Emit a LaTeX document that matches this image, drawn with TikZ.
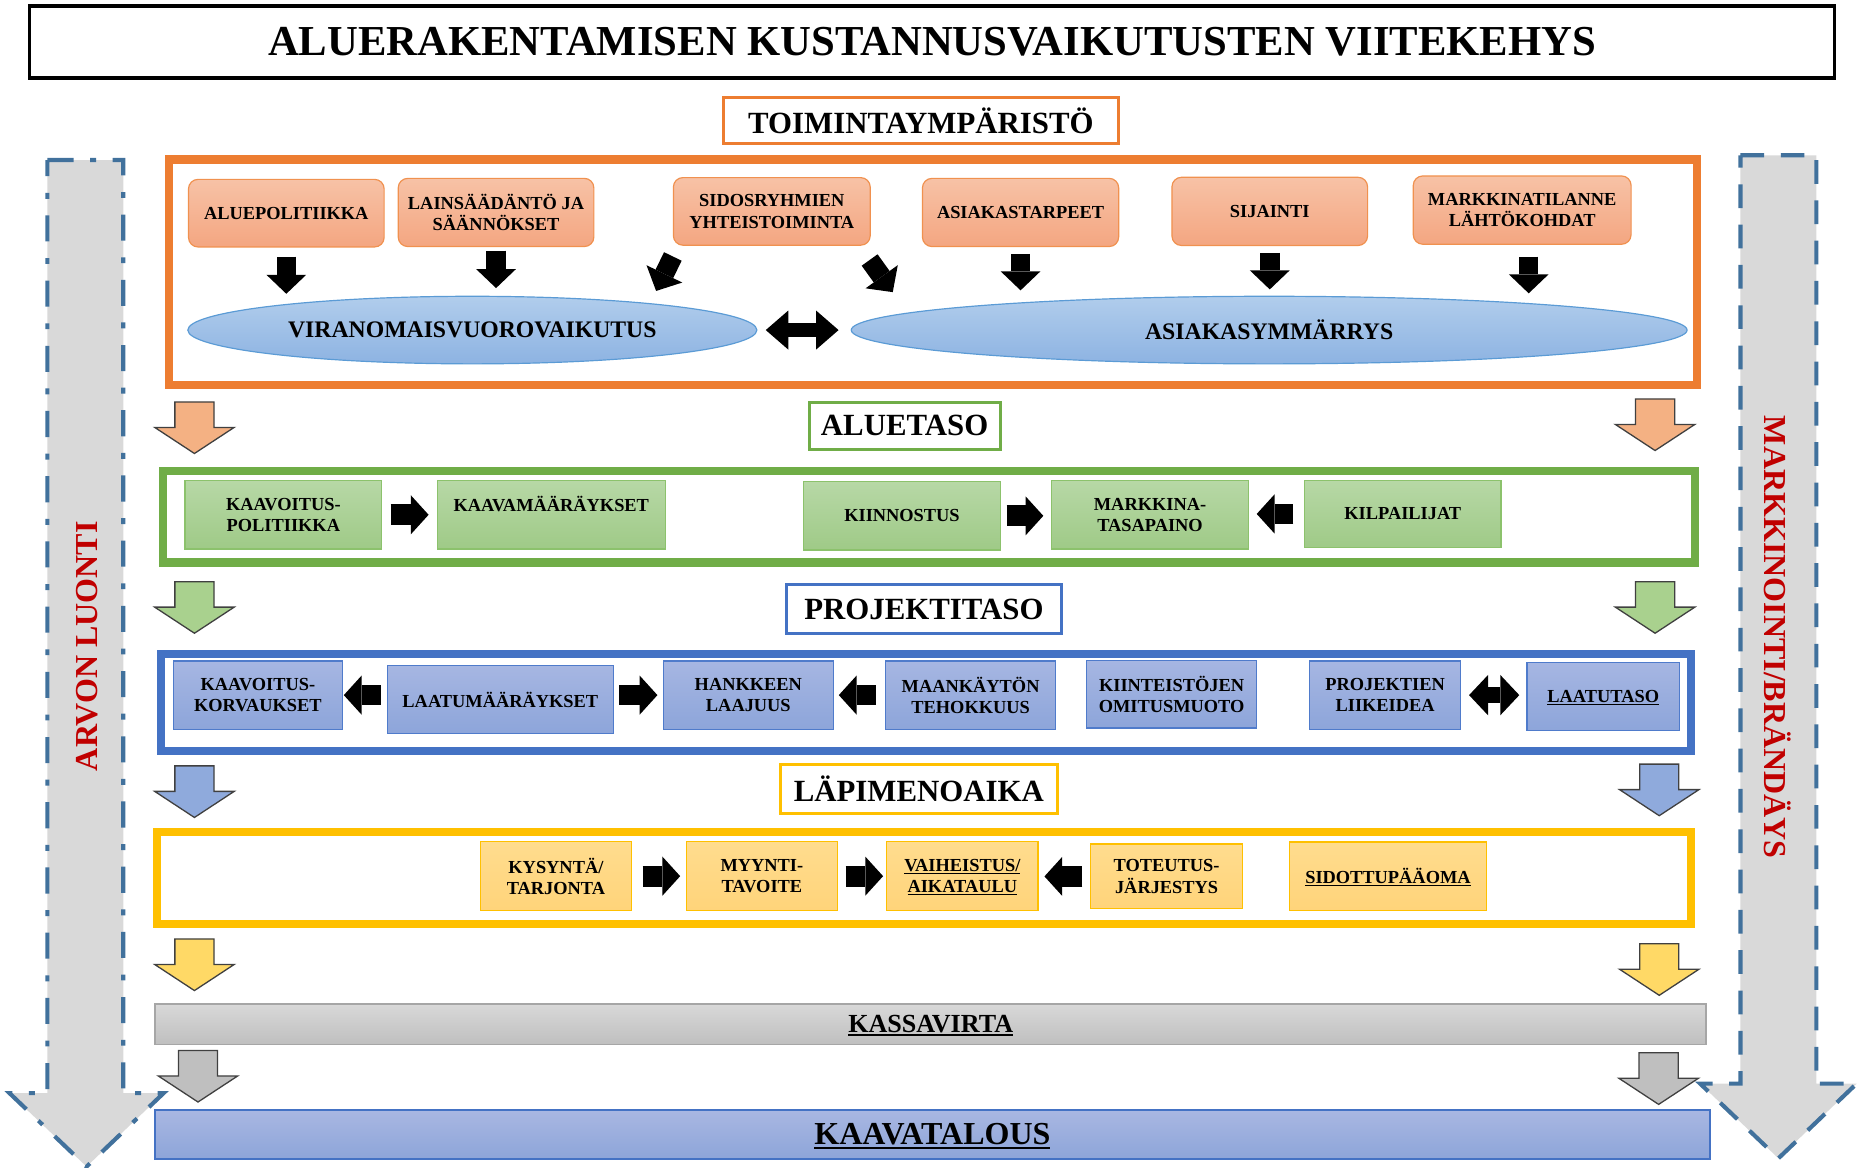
\documentclass[tikz,border=0pt]{standalone}
\usepackage{fontspec}
\setmainfont{Liberation Serif}
\usetikzlibrary{arrows.meta,shapes.geometric,calc}

\definecolor{orangeC}{HTML}{ED7D31}
\definecolor{greenC}{HTML}{70AD47}
\definecolor{blueC}{HTML}{4472C4}
\definecolor{goldC}{HTML}{FFC000}
\definecolor{redC}{HTML}{C00000}
\definecolor{dashC}{HTML}{41719C}
\definecolor{sideF}{HTML}{D9D9D9}
\definecolor{oT}{HTML}{F7C2A6}\definecolor{oB}{HTML}{F4A681}\definecolor{oD}{HTML}{F0914F}
\definecolor{eT}{HTML}{B1CDEC}\definecolor{eB}{HTML}{8DB3E2}\definecolor{eD}{HTML}{5B9BD5}
\definecolor{gT}{HTML}{B7D8A6}\definecolor{gB}{HTML}{9FCA87}\definecolor{gD}{HTML}{8CC26C}
\definecolor{bT}{HTML}{A6B6E2}\definecolor{bB}{HTML}{8DA5DA}\definecolor{bD}{HTML}{4F7BCB}
\definecolor{yT}{HTML}{FFDC8E}\definecolor{yB}{HTML}{FFD47A}\definecolor{yD}{HTML}{FFC000}
\definecolor{arrO}{HTML}{F4B183}
\definecolor{arrG}{HTML}{A9D18E}
\definecolor{arrB}{HTML}{8FAADC}
\definecolor{arrY}{HTML}{FFD966}
\definecolor{arrK}{HTML}{BFBFBF}
\definecolor{kasT}{HTML}{D8D8D8}\definecolor{kasB}{HTML}{BFBFBF}\definecolor{kasD}{HTML}{A6A6A6}
\definecolor{kvT}{HTML}{A9B7E2}\definecolor{kvB}{HTML}{8DA5D9}

% underline drawn as a rule that adds no depth
\newsavebox\ulbox
\newcommand\ulx[1]{\sbox\ulbox{#1}\rlap{\smash{\rule[-0.13em]{\wd\ulbox}{0.07em}}}\usebox\ulbox}

% coloured block arrow pointing down: centre x, top y, fill colour
\newcommand\dnarrow[3]{%
  \draw[blockout, fill=#3] ({#1-16.5},#2) -- ({#1+16.5},#2) -- ({#1+16.5},{#2+21.5})
    -- ({#1+33.5},{#2+21.5}) -- (#1,{#2+43.5}) -- ({#1-33.5},{#2+21.5})
    -- ({#1-16.5},{#2+21.5}) -- cycle;}

\begin{document}
\begin{tikzpicture}[x=1pt,y=-1pt,
  sz/.style 2 args={minimum width=#1pt,minimum height=#2pt},
  boxfont/.style={font=\bfseries\fontsize{15.5}{18}\selectfont},
  obox/.style={boxfont,draw=oD,line width=1pt,rounded corners=8pt,top color=oT,bottom color=oB,inner sep=0pt,align=center},
  gbox/.style={boxfont,draw=gD,line width=1pt,top color=gT,bottom color=gB,inner sep=0pt,align=center},
  bbox/.style={boxfont,draw=bD,line width=1pt,top color=bT,bottom color=bB,inner sep=0pt,align=center},
  ybox/.style={boxfont,draw=yD,line width=1pt,top color=yT,bottom color=yB,inner sep=0pt,align=center},
  ell/.style={ellipse,draw=eD,line width=1pt,top color=eT,bottom color=eB,inner sep=0pt,
    font=\bfseries\fontsize{20}{24}\selectfont},
  lbl/.style={draw,line width=2.5pt,fill=white,inner sep=0pt,font=\bfseries\fontsize{26}{30}\selectfont},
  frame/.style={line width=7pt},
  blockout/.style={draw=black!75,line width=1.1pt},
  sidearrow/.style={fill=sideF,draw=dashC,line width=3.5pt},
  sidetext/.style={text=redC,inner sep=0pt,font=\bfseries\fontsize{27}{30}\selectfont},
  bar/.style={line width=1.5pt,inner sep=0pt},
  varr/.style={line width=16.5pt,-{Triangle[length=16pt,width=33.5pt,line width=0pt]}},
  harr/.style={line width=17.5pt,-{Triangle[length=15pt,width=33pt,line width=0pt]}},
  darr/.style={line width=12pt,{Triangle[length=19pt,width=33pt,line width=0pt]}-{Triangle[length=19pt,width=33pt,line width=0pt]}},
  darrb/.style={line width=13pt,{Triangle[length=16pt,width=34pt,line width=0pt]}-{Triangle[length=16pt,width=34pt,line width=0pt]}}
]
\useasboundingbox (0,0) rectangle (1568,985);

% side arrows
\draw[sidearrow,dash pattern=on 22pt off 14pt on 5pt off 14pt]
  (40,135) -- (104,135) -- (104,922) -- (138,922) -- (73,984) -- (8,922) -- (40,922) -- cycle;
\draw[sidearrow,dash pattern=on 20pt off 14pt]
  (1468,131) -- (1532,131) -- (1532,914) -- (1566,914) -- (1500,977) -- (1434,914) -- (1468,914) -- cycle;
\node[sidetext,rotate=90] (arvo) at (73.8,545) {ARVON LUONTI};
\node[sidetext,rotate=-90] (brand) at (1499,537.6) {MARKKINOINTI/BRÄNDÄYS};

% title
\node[draw,line width=3pt,sz={1522.5}{61},inner sep=0pt,font=\bfseries\fontsize{36}{40}\selectfont]
  (title) at (786.25,35.5) {ALUERAKENTAMISEN KUSTANNUSVAIKUTUSTEN VIITEKEHYS};

% level frames
\draw[frame,orangeC] (142.5,134.5) rectangle (1431.5,324.5);
\draw[frame,greenC] (137.5,397) rectangle (1429.5,474.5);
\draw[frame,blueC] (136,551.5) rectangle (1426.5,633.5);
\draw[frame,goldC] (132.5,702) rectangle (1426.5,779.5);

% level labels
\node[lbl,draw=orangeC,sz={333.5}{39}] (toim) at (776.75,101.5) {TOIMINTAYMPÄRISTÖ};
\node[lbl,draw=greenC,sz={161}{40}] (alt) at (763,359.2) {ALUETASO};
\node[lbl,draw=blueC,sz={232}{41.5}] (prt) at (779.25,513.75) {PROJEKTITASO};
\node[lbl,draw=goldC,sz={234}{41}] (lpa) at (775,665.5) {LÄPIMENOAIKA};

% operating environment
\node[obox,sz={165}{57}] (alue) at (241.5,179.8) {ALUEPOLITIIKKA};
\node[obox,sz={165}{57.5}] (lain) at (418.4,179.2) {LAINSÄÄDÄNTÖ JA\\SÄÄNNÖKSET};
\node[obox,sz={166}{57}] (sid) at (651,178.3) {SIDOSRYHMIEN\\YHTEISTOIMINTA};
\node[obox,sz={165.5}{57.5}] (asia) at (860.8,179.2) {ASIAKASTARPEET};
\node[obox,sz={165}{57.5}] (sij) at (1071,178.3) {SIJAINTI};
\node[obox,sz={183.7}{57.6}] (mtl) at (1283.9,177.2) {MARKKINATILANNE\\LÄHTÖKOHDAT};
\node[ell,sz={480}{57}] (vir) at (398.4,278.4) {VIRANOMAISVUOROVAIKUTUS};
\node[ell,sz={705}{57}] (asy) at (1070.5,278.4) {ASIAKASYMMÄRRYS};

\draw[varr,shorten <=7.7pt,shorten >=1.6pt] (alue.south) -- (alue.south |- vir.north);
\draw[varr,shorten <=3pt,shorten >=6.4pt] (lain.south) -- (lain.south |- vir.north);
\coordinate (sidL) at ($(sid.south west)+(0,9)$);
\coordinate (virT) at ($(vir.north)+(155,-4)$);
\draw[varr] (sidL) -- (virT);
\coordinate (sidR) at ($(sid.south east)+(-1,12)$);
\coordinate (asyT) at ($(asy.north)+(-317.5,-3)$);
\draw[varr] (sidR) -- (asyT);
\draw[varr,shorten <=5.7pt,shorten >=4.5pt] (asia.south) -- (asia.south |- asy.north);
\draw[varr,shorten <=5.8pt,shorten >=5.3pt] (sij.south) -- (sij.south |- asy.north);
\coordinate (mtlout) at ($(mtl.south)+(5.5,0)$);
\draw[varr,shorten <=10pt,shorten >=2pt] (mtlout) -- (mtlout |- asy.north);
\draw[darr,shorten <=7pt,shorten >=10.2pt] (vir.east) -- (asy.west);

% area level
\node[gbox,sz={166}{57.6}] (kp) at (239,434.2) {KAAVOITUS-\\POLITIIKKA};
\node[gbox,sz={192}{57.6}] (km) at (465,434.2) {KAAVAMÄÄRÄYKSET\\\mbox{}};
\node[gbox,sz={165.5}{57.7}] (kiin) at (760.8,435.1) {KIINNOSTUS};
\node[gbox,sz={166}{57.6}] (mt) at (970,434.2) {MARKKINA-\\TASAPAINO};
\node[gbox,sz={165.5}{57}] (kil) at (1183.2,433.5) {KILPAILIJAT};
\draw[harr,shorten <=7pt,shorten >=7pt] (kp.east) -- (kp.east -| km.west);
\draw[harr,shorten <=5pt,shorten >=6.5pt] (kiin.east) -- (kiin.east -| mt.west);
\draw[harr,shorten <=9pt,shorten >=6.5pt] (kil.west) -- (kil.west -| mt.east);

% project level
\node[bbox,sz={143}{57.4}] (kk) at (217.5,586.3) {KAAVOITUS-\\KORVAUKSET};
\node[bbox,sz={190.6}{57}] (lm) at (422,590) {LAATUMÄÄRÄYKSET};
\node[bbox,sz={143.4}{57.4}] (hl) at (631.2,586.3) {HANKKEEN\\LAAJUUS};
\node[bbox,sz={143.5}{57.4}] (mk) at (818.7,586.3) {MAANKÄYTÖN\\TEHOKKUUS};
\node[bbox,sz={143.5}{57}] (ki) at (988.2,585.5) {KIINTEISTÖJEN\\OMITUSMUOTO};
\node[bbox,sz={127.4}{57.4}] (pl) at (1168.3,586.3) {PROJEKTIEN\\LIIKEIDEA};
\node[bbox,sz={128.7}{57.6}] (lt) at (1352.3,587.5) {\ulx{LAATUTASO}};
\draw[harr,shorten <=5pt,shorten >=0.5pt] (lm.west |- kk.east) -- (kk.east);
\draw[harr,shorten <=4.7pt,shorten >=4.5pt] (lm.east |- hl.west) -- (hl.west);
\draw[harr,shorten <=7.6pt,shorten >=4.1pt] (mk.west) -- (mk.west -| hl.east);
\draw[darrb,shorten <=6.6pt,shorten >=6pt] (pl.east) -- (pl.east -| lt.west);

% lead time
\node[ybox,sz={127.8}{58}] (ky) at (468.9,739) {KYSYNTÄ/\\TARJONTA};
\node[ybox,sz={127.6}{58}] (my) at (642.6,739) {MYYNTI-\\TAVOITE};
\node[ybox,sz={127.5}{58}] (va) at (811.7,739) {\ulx{VAIHEISTUS/}\\\ulx{AIKATAULU}};
\node[ybox,sz={128}{54.5}] (tj) at (984,739.2) {TOTEUTUS-\\JÄRJESTYS};
\node[ybox,sz={165.5}{57.7}] (sp) at (1170.7,739.1) {\ulx{SIDOTTUPÄÄOMA}};
\draw[harr,shorten <=8.8pt,shorten >=4.6pt] (ky.east) -- (ky.east -| my.west);
\draw[harr,shorten <=6.4pt,shorten >=2.6pt] (my.east) -- (my.east -| va.west);
\draw[harr,shorten <=6.5pt,shorten >=5pt] (tj.west) -- (tj.west -| va.east);

% cash flow and zoning economy
\node[bar,draw=kasD,top color=kasT,bottom color=kasB,sz={1308}{34},
  font=\bfseries\fontsize{22}{26}\selectfont] (kassa) at (785,864) {\ulx{KASSAVIRTA}};
\node[bar,draw=blueC,top color=kvT,bottom color=kvB,sz={1311}{41.5},
  font=\bfseries\fontsize{27}{30}\selectfont] (kaava) at (786.5,956.75) {\ulx{KAAVATALOUS}};

% flow arrows between the levels
\dnarrow{164}{339}{arrO}
\dnarrow{1396}{336.5}{arrO}
\dnarrow{164}{490.6}{arrG}
\dnarrow{1396}{490.6}{arrG}
\dnarrow{164}{646}{arrB}
\dnarrow{1399.5}{644.5}{arrB}
\dnarrow{164}{792}{arrY}
\dnarrow{1399.5}{796}{arrY}
\dnarrow{167}{886}{arrK}
\dnarrow{1399}{888}{arrK}
\end{tikzpicture}
\end{document}
